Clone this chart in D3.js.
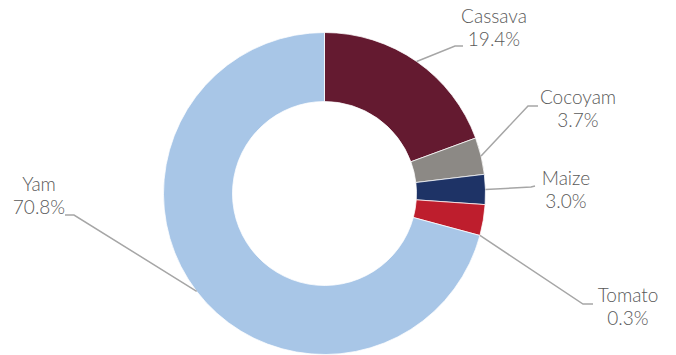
<!DOCTYPE html>
<html>
<head>
<meta charset="utf-8">
<script src="https://cdn.jsdelivr.net/npm/d3@7"></script>
<style>
  html, body { margin: 0; padding: 0; background: #fff; }
  svg { display: block; }
  text { font-family: Lato, "Open Sans", sans-serif; font-weight: 300; fill: #595959; }
</style>
</head>
<body>
<svg id="vis" width="676" height="355"></svg>
<script>
// crop shares (slice sizes as drawn)
const crops = ["Cassava", "Cocoyam", "Maize", "Tomato", "Yam"];
const shares = [19.4, 3.7, 3.0, 3.1, 70.8];
// percentage labels as printed on the chart
const shareLabels = ["19.4%", "3.7%", "3.0%", "0.3%", "70.8%"];
const colors = ["#641a30", "#8c8985", "#1e3366", "#be1e2d", "#a8c6e7"];

// label layout: text centre, first baseline, elbow and line end, where on the slice the leader starts
const labelLayout = [
  { x: 494, y: 23,  elbow: [455, 46],  end: [463, 46],  at: 0.5 },
  { x: 578, y: 104, elbow: [528, 106], end: [538, 106], at: 0.5 },
  { x: 566, y: 185, elbow: [531, 187], end: [535, 186], at: 0.5 },
  { x: 628, y: 302, elbow: [583, 304], end: [593, 304], at: 1.0 },
  { x: 39,  y: 191, elbow: [74, 215],  end: [65, 215],  at: 0.5 }
];

const cx = 324.5, cy = 193.5;
const outerR = 161, innerR = 92;

translate = function(a, b) {
  return "translate(" + a + ", " + b + ")";
}

const svg = d3.select("#vis");

const data = crops.map(function(c, i) {
  return { crop: c, value: shares[i], label: shareLabels[i], color: colors[i], layout: labelLayout[i] };
});

const pie = d3.pie().sort(null).value(function(d) { return d.value; });
const arc = d3.arc().innerRadius(innerR).outerRadius(outerR);
const arcs = pie(data);

let plot = svg.append("g").attr("transform", translate(cx, cy));

plot.selectAll("path.slice")
  .data(arcs)
  .enter().append("path")
  .attr("class", "slice")
  .attr("d", arc)
  .attr("fill", function(d) { return d.data.color; })
  .attr("stroke", "#fff")
  .attr("stroke-width", 0.75);

// leader lines
plot.selectAll("polyline.leader")
  .data(arcs)
  .enter().append("polyline")
  .attr("class", "leader")
  .attr("fill", "none")
  .attr("stroke", "#a6a6a6")
  .attr("stroke-width", 1.5)
  .attr("points", function(d) {
    const L = d.data.layout;
    const a = d.startAngle + (d.endAngle - d.startAngle) * L.at;
    const sx = Math.sin(a) * outerR, sy = -Math.cos(a) * outerR;
    return [[sx, sy], [L.elbow[0] - cx, L.elbow[1] - cy], [L.end[0] - cx, L.end[1] - cy]].join(" ");
  });

// labels
let labels = svg.selectAll("text.lbl")
  .data(arcs)
  .enter().append("text")
  .attr("class", "lbl")
  .attr("text-anchor", "middle")
  .style("font-size", "19px");

labels.append("tspan")
  .attr("x", function(d) { return d.data.layout.x; })
  .attr("y", function(d) { return d.data.layout.y; })
  .text(function(d) { return d.data.crop; });

labels.append("tspan")
  .attr("x", function(d) { return d.data.layout.x; })
  .attr("y", function(d) { return d.data.layout.y + 23; })
  .text(function(d) { return d.data.label; });
</script>
</body>
</html>
